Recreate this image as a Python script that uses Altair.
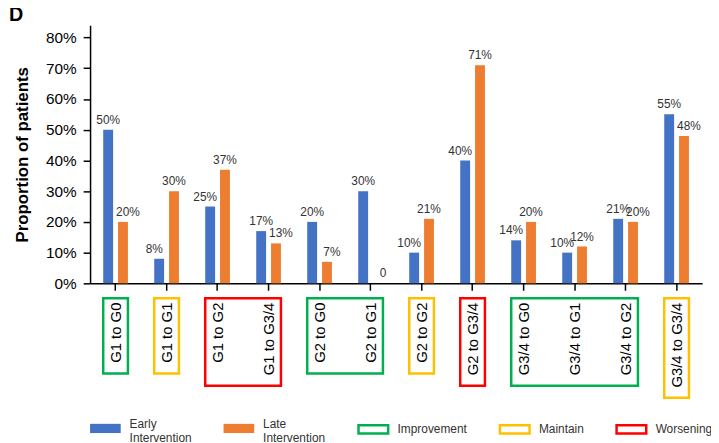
import altair as alt
import pandas as pd

categories = ["G1 to G0", "G1 to G1", "G1 to G2", "G1 to G3/4", "G2 to G0", "G2 to G1",
              "G2 to G2", "G2 to G3/4", "G3/4 to G0", "G3/4 to G1", "G3/4 to G2", "G3/4 to G3/4"]
early = [50, 8, 25, 17, 20, 30, 10, 40, 14, 10, 21, 55]
late = [20, 30, 37, 13, 7, 0, 21, 71, 20, 12, 20, 48]
series = ["Early Intervention", "Late Intervention"]

box_types = ["Improvement", "Maintain", "Worsening"]
box_first = ["G1 to G0", "G1 to G1", "G1 to G2", "G2 to G0", "G2 to G2", "G2 to G3/4", "G3/4 to G0", "G3/4 to G3/4"]
box_last = ["G1 to G0", "G1 to G1", "G1 to G3/4", "G2 to G1", "G2 to G2", "G2 to G3/4", "G3/4 to G2", "G3/4 to G3/4"]
box_type = ["Improvement", "Maintain", "Worsening", "Improvement", "Maintain", "Worsening", "Improvement", "Maintain"]

BLUE, ORANGE = "#4472C4", "#ED7D31"
GREEN, YELLOW, RED = "#00B050", "#FFC000", "#FF0000"
FONT = "Liberation Sans"
W, H = 619, 261

rows = []
for c, e, l in zip(categories, early, late):
    for s, v, other, side in ((series[0], e, l, -1), (series[1], l, e, 1)):
        rows.append({"cat": c, "series": s, "pct": v,
                     "label": f"{v}%" if v > 0 else "0",
                     "nudge": side if v < other else 0})
df = pd.DataFrame(rows)

brows = []
for f, la, t in zip(box_first, box_last, box_type):
    i0, i1 = categories.index(f), categories.index(la)
    maxlen = max(len(c) for c in categories[i0:i1 + 1])
    brows.append({"first": f, "last": la, "type": t,
                  "ytop": H + 15, "ybot": H + 42 + 6.15 * maxlen})
bdf = pd.DataFrame(brows)

x_scale = alt.Scale(domain=categories, paddingInner=0.5155, paddingOuter=0.2578)
y_scale = alt.Scale(domain=[0, 84], nice=False)
off_scale = alt.Scale(domain=series, paddingInner=1 / 3, paddingOuter=0)

x_axis = alt.Axis(labelAngle=270, labelAlign="right", labelBaseline="middle", labelPadding=12,
                  tickSize=7, labelFontSize=15, labelColor="black", domainColor="black",
                  tickColor="black", domainWidth=1.5, tickWidth=1.5, labelOverlap=False)
y_axis = alt.Axis(values=list(range(0, 81, 10)), labelExpr="datum.value + '%'", grid=False,
                  tickSize=7, labelPadding=7, labelFontSize=15.5, labelColor="black",
                  titleFontSize=17, titleFontWeight="bold", titleColor="black", titlePadding=14,
                  domainColor="black", tickColor="black", domainWidth=1.5, tickWidth=1.5)
Y_TITLE = "Proportion of patients"

bars = alt.Chart(df).mark_bar().encode(
    x=alt.X("cat:N", scale=x_scale, sort=None, title=None, axis=x_axis),
    xOffset=alt.XOffset("series:N", scale=off_scale),
    y=alt.Y("pct:Q", scale=y_scale, title=Y_TITLE, axis=y_axis),
    color=alt.Color("series:N", scale=alt.Scale(domain=series, range=[BLUE, ORANGE]),
                    legend=alt.Legend(title=None, orient="none", legendX=0, legendY=392,
                                      direction="horizontal",
                                      symbolType="M-1,-0.3H1V0.3H-1Z", symbolSize=961,
                                      symbolStrokeWidth=0, labelExpr="split(datum.label, ' ')",
                                      labelBaseline="alphabetic",
                                      labelFontSize=12, labelOffset=9, columnPadding=32,
                                      labelColor="#333", labelLimit=300)),
)

texts = []
for n, dx in ((0, 0), (-1, -5), (1, 5)):
    texts.append(
        alt.Chart(df).transform_filter(f"datum.nudge == {n}").mark_text(
            dx=dx, dy=-6, baseline="alphabetic", fontSize=12, color="#333"
        ).encode(
            x=alt.X("cat:N", scale=x_scale, sort=None, title=None, axis=x_axis),
            xOffset=alt.XOffset("series:N", scale=off_scale),
            y=alt.Y("pct:Q", scale=y_scale, title=Y_TITLE, axis=y_axis),
            text="label:N",
        )
    )

boxes = alt.Chart(bdf).mark_rect(filled=False, strokeWidth=2.5).encode(
    x=alt.X("first:N", scale=x_scale, bandPosition=0, title=None, axis=x_axis),
    x2=alt.X2("last:N", bandPosition=1),
    y=alt.Y("ytop:Q", scale=None),
    y2="ybot:Q",
    stroke=alt.Stroke("type:N", scale=alt.Scale(domain=box_types, range=[GREEN, YELLOW, RED]),
                      legend=alt.Legend(title=None, orient="none", legendX=270, legendY=392,
                                        direction="horizontal",
                                        symbolType="M-1,-0.28H1V0.28H-1Z", symbolSize=900,
                                        symbolStrokeWidth=2.5, symbolFillColor="transparent",
                                        labelFontSize=12, labelOffset=8, columnPadding=27,
                                        labelColor="#333", labelLimit=300)),
)

chart = alt.layer(alt.layer(bars, *texts), boxes).resolve_scale(
    y="independent", stroke="independent", color="independent"
).properties(
    width=W, height=H,
    padding={"left": 83, "top": 15, "right": 9, "bottom": 159},
    autosize=alt.AutoSizeParams(type="none"),
    title=alt.TitleParams("D", anchor="start", frame="bounds", fontSize=20, fontWeight="bold",
                          color="black", dx=-5, offset=0),
).configure(font=FONT).configure_view(stroke=None)

chart.save("out.html", embed_options={"renderer": "svg", "actions": False})
